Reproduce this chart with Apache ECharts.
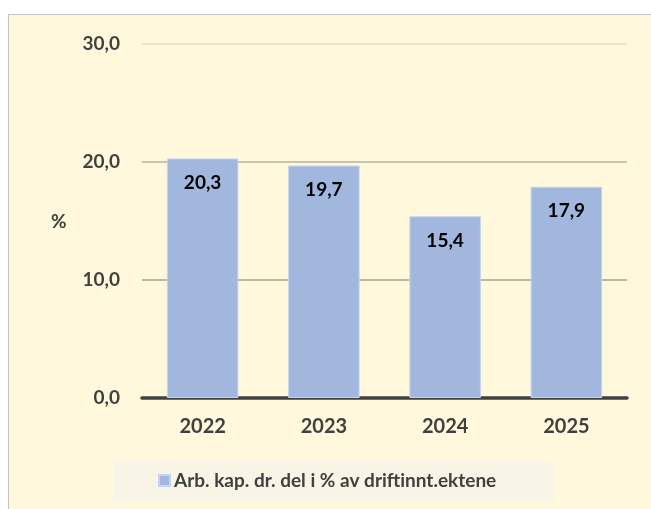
<!DOCTYPE html>
<html lang="no">
<head>
    <meta charset="UTF-8">
    <title>Arb. kap. dr. del</title>
    <script src="https://cdn.jsdelivr.net/npm/echarts/dist/echarts.min.js"></script>
    <style>
        body {
            margin: 0;
            background: #ffffff;
        }
        .frame {
            position: absolute;
            left: 8px;
            top: 14px;
            width: 660px;
            height: 500px;
            background: #fff8dc;
            border: 1px solid #c4c4c4;
        }
        #chart {
            position: absolute;
            left: 0;
            top: 0;
            width: 651px;
            height: 509px;
        }
    </style>
</head>
<body>
    <div class="frame"></div>
    <div id="chart"></div>

    <script>
        // 数据
        const years = ['2022', '2023', '2024', '2025'];
        const values = [20.3, 19.7, 15.4, 17.9];
        const seriesName = 'Arb. kap. dr. del i % av driftinnt.ektene';

        const fmt = v => v.toFixed(1).replace('.', ',');

        const myChart = echarts.init(document.getElementById('chart'));
        myChart.setOption({
            backgroundColor: 'transparent',
            textStyle: { fontFamily: 'Lato' },
            grid: { left: 142, right: 24, top: 44, bottom: 111 },
            graphic: [{
                type: 'text',
                left: 51,
                top: 212,
                style: { text: '%', font: 'bold 19px Lato', fill: '#404040' }
            }],
            legend: {
                bottom: 8,
                left: 113,
                width: 440,
                itemWidth: 11,
                itemHeight: 11,
                itemGap: 0,
                padding: [10, 59, 11, 45],
                backgroundColor: '#f8f5e6',
                textStyle: { fontSize: 19, fontWeight: 'bold', color: '#404040', fontFamily: 'Lato', padding: [0, 0, 0, -1] },
                data: [{ name: seriesName, icon: 'rect' }]
            },
            xAxis: {
                type: 'category',
                data: years,
                axisLine: { lineStyle: { color: '#404040', width: 3.5 } },
                axisTick: { show: false },
                axisLabel: { fontSize: 20, fontWeight: 'bold', color: '#404040', margin: 19 }
            },
            yAxis: {
                type: 'value',
                min: 0,
                max: 30,
                interval: 10,
                axisLine: { show: false },
                axisTick: { show: false },
                axisLabel: {
                    fontSize: 19, fontWeight: 'bold', color: '#404040', margin: 22,
                    formatter: v => fmt(v)
                },
                splitLine: { lineStyle: { color: ['#404040', '#a8a290', '#b8b2a2', '#e6dcc2'], width: 1.5 } }
            },
            series: [{
                name: seriesName,
                type: 'bar',
                data: values,
                barWidth: '59%',
                itemStyle: { color: '#a2b7de', borderColor: '#c6d4ee', borderWidth: 1 },
                label: {
                    show: true,
                    position: 'insideTop',
                    distance: 15,
                    fontSize: 19,
                    fontWeight: 'bold',
                    color: '#000000',
                    fontFamily: 'Lato',
                    formatter: p => fmt(p.value)
                }
            }]
        });
    </script>
</body>
</html>
